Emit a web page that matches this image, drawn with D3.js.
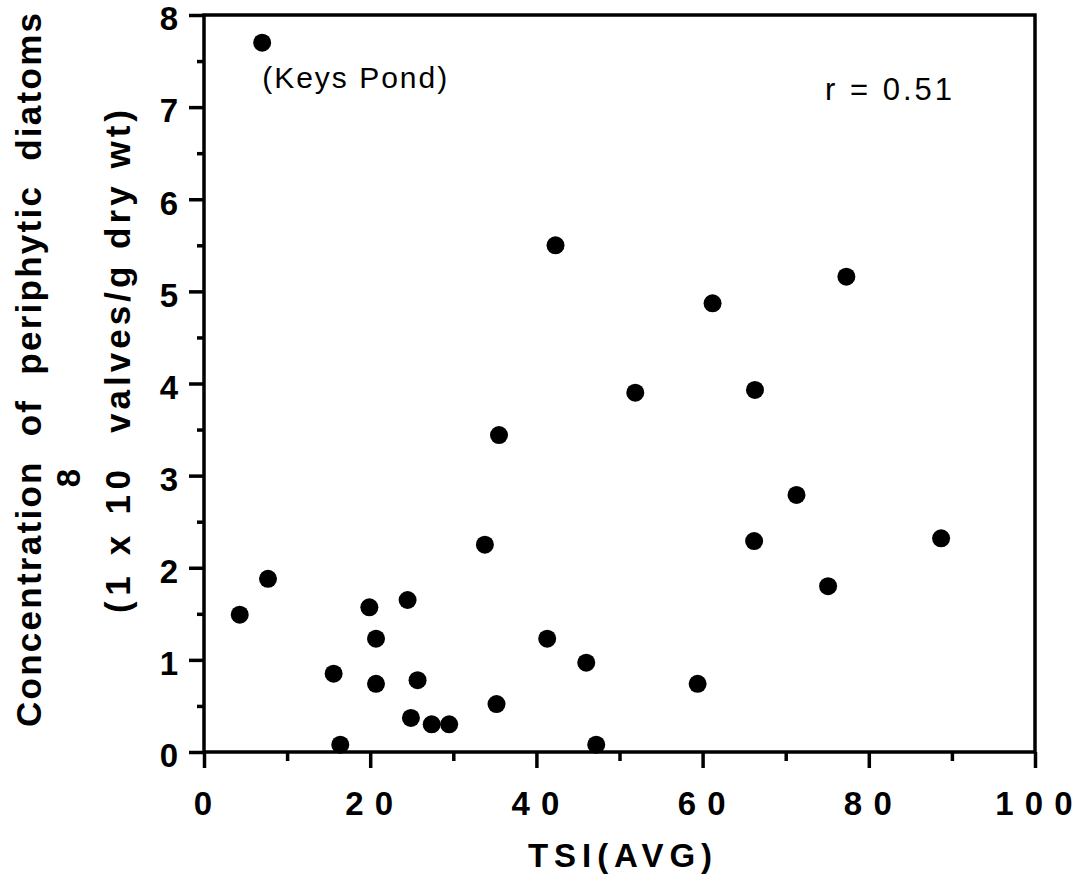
<!DOCTYPE html>
<html>
<head>
<meta charset="utf-8">
<script src="https://cdn.jsdelivr.net/npm/d3@7"></script>
<style>
  body { margin: 0; background: #fff; }
  svg text { font-family: "Liberation Sans", Arial, Helvetica, sans-serif; fill: #000; white-space: pre; }
</style>
</head>
<body>
<div id="canvas"></div>
<script>
// TSI(AVG) vs concentration of periphytic diatoms (1 x 10^8 valves/g dry wt)
const tsi = [7.0, 4.3, 7.7, 15.6, 16.4, 19.9, 20.7, 20.7, 24.5, 24.9, 25.7, 27.4, 29.5,
  33.8, 35.2, 35.5, 41.3, 42.3, 46.0, 47.2, 51.9, 59.4, 61.2, 66.3, 66.2, 71.3, 75.1, 77.3, 88.7]
const conc = [7.70, 1.49, 1.88, 0.85, 0.08, 1.57, 1.23, 0.74, 1.65, 0.37, 0.78, 0.30, 0.30,
  2.25, 0.52, 3.44, 1.23, 5.50, 0.97, 0.08, 3.90, 0.74, 4.87, 3.93, 2.29, 2.79, 1.80, 5.16, 2.32]
const xTicks = [0, 20, 40, 60, 80, 100]
const xTickLabels = ['0', '2 0', '4 0', '6 0', '8 0', '1 0 0']
const xMinor = [10, 30, 50, 70, 90]
const yTicks = [0, 1, 2, 3, 4, 5, 6, 7, 8]
const yMinor = [0.5, 1.5, 2.5, 3.5, 4.5, 5.5, 6.5, 7.5]
const keysIndex = 0 // Keys Pond outlier

const width = 1084
const height = 877
const plotLeft = 204
const plotRight = 1035
const plotTop = 15
const plotBottom = 752
const lineW = 3.5

const svg = d3.select('#canvas').append('svg')
  .attr('width', width)
  .attr('height', height)

const x = d3.scaleLinear().domain([0, 100]).range([plotLeft, plotRight])
const y = d3.scaleLinear().domain([0, 8]).range([plotBottom, plotTop])

// minor ticks first, then major ticks
const styleAxis = g => {
  g.select('.domain').remove()
  g.selectAll('.tick line').attr('stroke', '#000').attr('stroke-width', lineW)
}

svg.append('g')
  .attr('transform', `translate(0,${plotBottom})`)
  .call(d3.axisBottom(x).tickValues(xMinor).tickSize(9).tickFormat(''))
  .call(styleAxis)

svg.append('g')
  .attr('transform', `translate(0,${plotBottom})`)
  .call(d3.axisBottom(x).tickValues(xTicks).tickSize(16).tickPadding(24)
    .tickFormat((d, i) => xTickLabels[i]))
  .call(styleAxis)
  .call(g => g.selectAll('.tick text')
    .attr('font-size', 33).attr('font-weight', 'bold')
    .attr('dx', -1).attr('letter-spacing', 1))

svg.append('g')
  .attr('transform', `translate(${plotLeft},0)`)
  .call(d3.axisLeft(y).tickValues(yMinor).tickSize(7).tickFormat(''))
  .call(styleAxis)

svg.append('g')
  .attr('transform', `translate(${plotLeft},0)`)
  .call(d3.axisLeft(y).tickValues(yTicks).tickSize(15).tickPadding(11).tickFormat(d3.format('d')))
  .call(styleAxis)
  .call(g => g.selectAll('.tick text')
    .attr('font-size', 33).attr('font-weight', 'bold').attr('dy', '0.45em'))

// plot frame
svg.append('rect')
  .attr('x', plotLeft)
  .attr('y', plotTop)
  .attr('width', plotRight - plotLeft)
  .attr('height', plotBottom - plotTop)
  .attr('fill', 'none')
  .attr('stroke', '#000')
  .attr('stroke-width', lineW)

// points
const points = tsi.map((t, i) => ({ t: t, c: conc[i] }))
svg.append('g').selectAll('circle')
  .data(points)
  .join('circle')
  .attr('cx', d => x(d.t))
  .attr('cy', d => y(d.c))
  .attr('r', 9)
  .attr('fill', '#000')

// annotations
svg.append('text')
  .attr('x', x(tsi[keysIndex]))
  .attr('y', y(conc[keysIndex]) + 45)
  .attr('font-size', 30)
  .attr('textLength', 185)
  .attr('lengthAdjust', 'spacing')
  .text('(Keys Pond)')

svg.append('text')
  .attr('x', 825)
  .attr('y', 100)
  .attr('font-size', 31)
  .attr('textLength', 127)
  .attr('lengthAdjust', 'spacing')
  .text('r = 0.51')

// axis titles
svg.append('text')
  .attr('x', 528)
  .attr('y', 867)
  .attr('font-size', 33)
  .attr('font-weight', 'bold')
  .attr('textLength', 184)
  .attr('lengthAdjust', 'spacing')
  .text('TSI(AVG)')

svg.append('text')
  .attr('transform', 'translate(41,727) rotate(-90)')
  .attr('font-size', 35)
  .attr('font-weight', 'bold')
  .attr('textLength', 714)
  .attr('lengthAdjust', 'spacing')
  .text('Concentration  of  periphytic  diatoms')

svg.append('text')
  .attr('transform', 'translate(130,613) rotate(-90)')
  .attr('font-size', 35)
  .attr('font-weight', 'bold')
  .attr('textLength', 143)
  .attr('lengthAdjust', 'spacing')
  .text('(1 x 10')

svg.append('text')
  .attr('transform', 'translate(130,433) rotate(-90)')
  .attr('font-size', 35)
  .attr('font-weight', 'bold')
  .attr('textLength', 323)
  .attr('lengthAdjust', 'spacing')
  .text('valves/g dry wt)')

svg.append('text')
  .attr('transform', 'translate(80,478) rotate(-90)')
  .attr('text-anchor', 'middle')
  .attr('font-size', 33)
  .attr('font-weight', 'bold')
  .text('8')
</script>
</body>
</html>
